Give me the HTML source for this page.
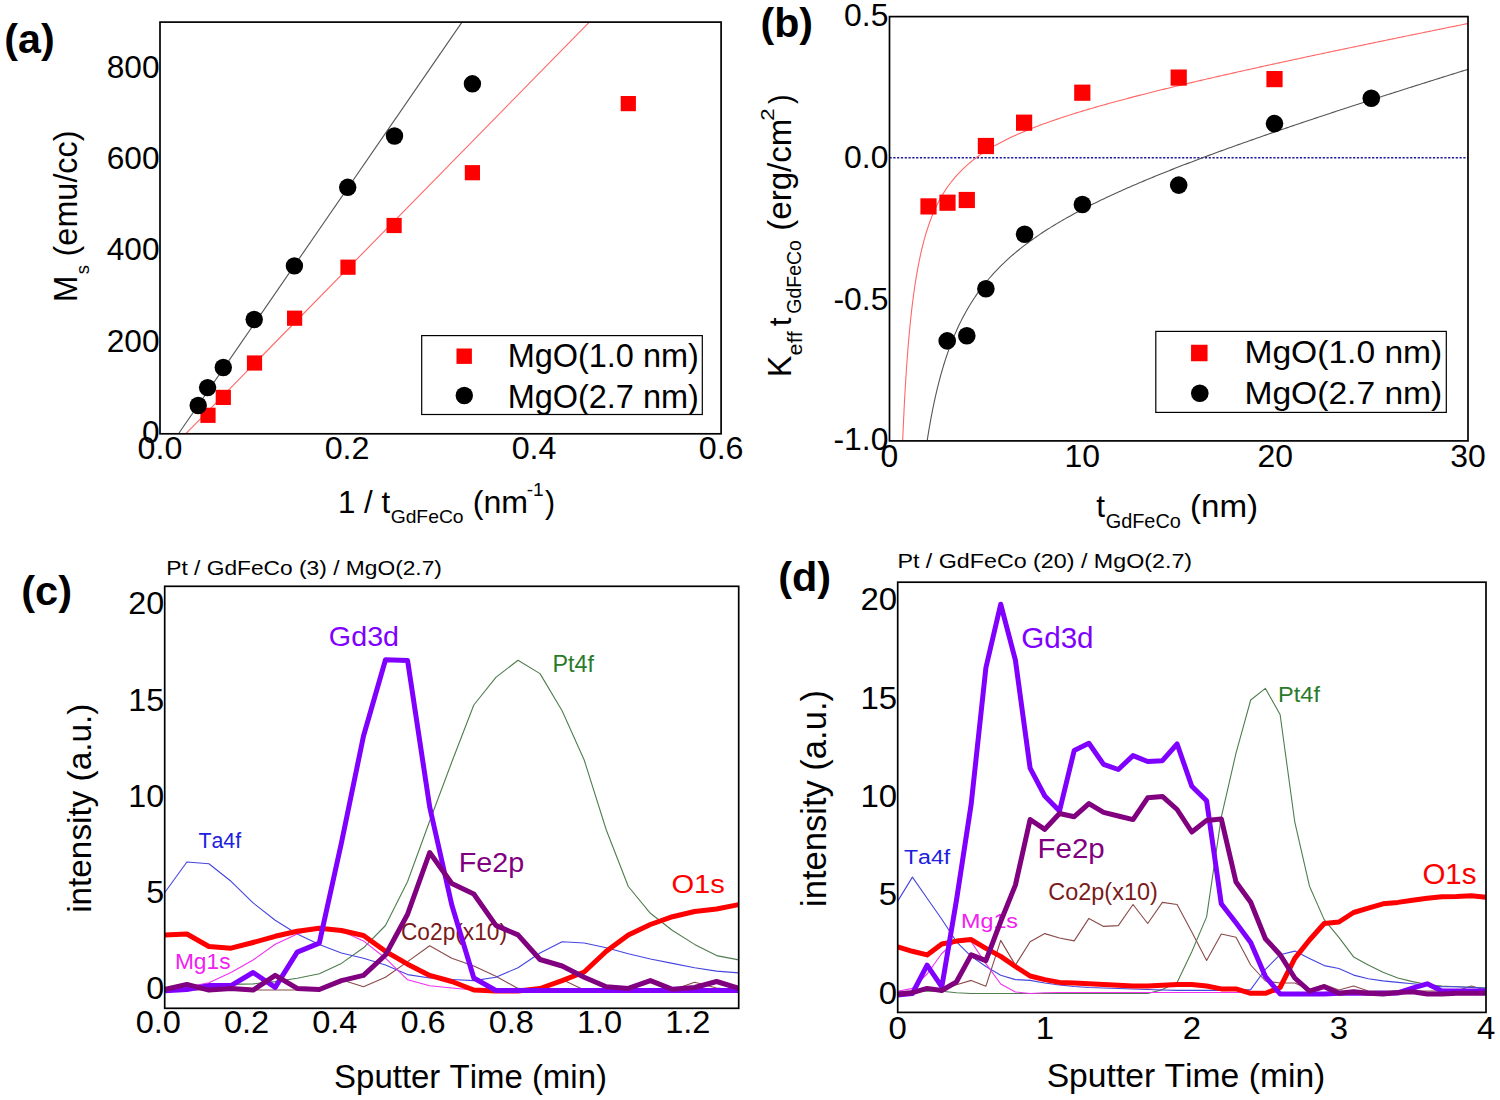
<!DOCTYPE html>
<html><head><meta charset="utf-8"><title>figure</title>
<style>
html,body{margin:0;padding:0;background:#fff;}
svg{display:block;}
text{font-family:"Liberation Sans", sans-serif;font-kerning:none;}
</style></head>
<body>
<svg width="1500" height="1100" viewBox="0 0 1500 1100">
<rect width="1500" height="1100" fill="#fff"/>
<text transform="translate(4.35,52.50) scale(1.0060,1)" font-size="41" font-weight="bold" fill="#000">(a)</text>
<line x1="178.5" y1="433.8" x2="462.0" y2="22.1" stroke="#555" stroke-width="1.1"/>
<line x1="185.7" y1="433.8" x2="589.3" y2="22.1" stroke="#f66" stroke-width="1.1"/>
<rect x="160.0" y="22.1" width="561.10" height="411.70" fill="none" stroke="#000" stroke-width="1.7"/>
<text transform="translate(141.91,443.46) scale(1.0200,1)" font-size="31" fill="#000">0</text>
<text transform="translate(106.74,351.98) scale(1.0200,1)" font-size="31" fill="#000">200</text>
<text transform="translate(106.74,260.49) scale(1.0200,1)" font-size="31" fill="#000">400</text>
<text transform="translate(106.74,169.00) scale(1.0200,1)" font-size="31" fill="#000">600</text>
<text transform="translate(106.74,77.51) scale(1.0200,1)" font-size="31" fill="#000">800</text>
<text transform="translate(137.59,458.96) scale(1.0400,1)" font-size="31" fill="#000">0.0</text>
<text transform="translate(324.63,458.96) scale(1.0400,1)" font-size="31" fill="#000">0.2</text>
<text transform="translate(511.67,458.96) scale(1.0400,1)" font-size="31" fill="#000">0.4</text>
<text transform="translate(698.71,458.96) scale(1.0400,1)" font-size="31" fill="#000">0.6</text>
<rect x="200.40" y="407.70" width="15.2" height="15.2" fill="#f00"/>
<rect x="215.70" y="389.80" width="15.2" height="15.2" fill="#f00"/>
<rect x="246.90" y="355.40" width="15.2" height="15.2" fill="#f00"/>
<rect x="287.00" y="310.60" width="15.2" height="15.2" fill="#f00"/>
<rect x="340.40" y="259.60" width="15.2" height="15.2" fill="#f00"/>
<rect x="386.50" y="217.90" width="15.2" height="15.2" fill="#f00"/>
<rect x="464.80" y="165.10" width="15.2" height="15.2" fill="#f00"/>
<rect x="620.70" y="96.00" width="15.2" height="15.2" fill="#f00"/>
<circle cx="198.20" cy="405.50" r="8.7" fill="#000"/>
<circle cx="207.60" cy="387.60" r="8.7" fill="#000"/>
<circle cx="223.30" cy="367.50" r="8.7" fill="#000"/>
<circle cx="254.20" cy="319.50" r="8.7" fill="#000"/>
<circle cx="294.40" cy="265.90" r="8.7" fill="#000"/>
<circle cx="347.70" cy="187.30" r="8.7" fill="#000"/>
<circle cx="394.50" cy="136.00" r="8.7" fill="#000"/>
<circle cx="472.40" cy="83.80" r="8.7" fill="#000"/>
<rect x="421.7" y="335.6" width="280.6" height="78.9" fill="#fff" stroke="#000" stroke-width="1.2"/>
<rect x="456.50" y="348.50" width="15.4" height="15.4" fill="#f00"/>
<circle cx="464.30" cy="395.50" r="8.7" fill="#000"/>
<text transform="translate(507.64,367.40) scale(1.0054,1)" font-size="32.3" fill="#000">MgO(1.0 nm)</text>
<text transform="translate(507.64,407.50) scale(1.0054,1)" font-size="32.3" fill="#000">MgO(2.7 nm)</text>
<text transform="translate(338.01,512.90) scale(0.9941,1)" font-size="31.5" fill="#000">1 / t</text>
<text transform="translate(390.63,522.80) scale(1.0164,1)" font-size="19" fill="#000">GdFeCo</text>
<text transform="translate(472.81,512.90) scale(1.0195,1)" font-size="31.5" fill="#000">(nm</text>
<text transform="translate(526.75,496.40) scale(1.0610,1)" font-size="18" fill="#000">-1</text>
<text transform="translate(545.02,512.90) scale(0.9579,1)" font-size="31.5" fill="#000">)</text>
<text transform="translate(76.60,302.09) rotate(-90) scale(1.0013,1.0500)" font-size="31.5" fill="#000">M</text>
<text transform="translate(88.70,274.22) rotate(-90) scale(0.9777,1.0000)" font-size="19" fill="#000">s</text>
<text transform="translate(76.60,256.41) rotate(-90) scale(1.0287,1.0300)" font-size="31.5" fill="#000">(emu/cc)</text>
<text transform="translate(760.45,37.40) scale(1.0048,1)" font-size="41" font-weight="bold" fill="#000">(b)</text>
<line x1="889.5" y1="157.8" x2="1468.0" y2="157.8" stroke="#1a1a9a" stroke-width="1.6" stroke-dasharray="2.2,1.6"/>
<clipPath id="clipb"><rect x="889.5" y="16.6" width="578.5" height="424.29999999999995"/></clipPath>
<path d="M901.07,484.58 L901.46,472.87 L901.84,461.89 L902.23,451.57 L902.61,441.85 L903.00,432.69 L903.38,424.03 L903.77,415.83 L904.16,408.06 L904.54,400.68 L904.93,393.67 L905.31,387.00 L905.70,380.65 L906.08,374.58 L906.47,368.79 L906.85,363.25 L907.24,357.95 L907.63,352.87 L908.01,348.00 L908.40,343.33 L908.78,338.84 L909.17,334.52 L909.55,330.37 L909.94,326.37 L910.33,322.51 L910.71,318.80 L911.10,315.21 L911.48,311.75 L911.87,308.40 L912.25,305.16 L912.64,302.03 L913.03,299.00 L913.41,296.07 L913.80,293.23 L914.18,290.47 L914.57,287.79 L914.95,285.20 L915.34,282.68 L915.72,280.23 L916.11,277.85 L916.50,275.54 L916.88,273.29 L917.27,271.10 L917.65,268.97 L918.04,266.89 L918.42,264.87 L918.81,262.89 L919.20,260.97 L919.58,259.10 L919.97,257.27 L920.35,255.48 L920.74,253.74 L921.12,252.04 L921.51,250.37 L921.90,248.75 L922.28,247.16 L922.67,245.61 L923.05,244.09 L923.44,242.60 L923.82,241.14 L924.21,239.72 L924.60,238.33 L924.98,236.96 L925.37,235.62 L925.75,234.31 L926.14,233.03 L926.52,231.77 L926.91,230.53 L927.29,229.32 L927.68,228.13 L928.07,226.97 L928.45,225.82 L928.84,224.70 L929.22,223.59 L929.61,222.51 L929.99,221.45 L930.38,220.40 L930.77,219.37 L931.15,218.36 L931.54,217.37 L931.92,216.40 L932.31,215.44 L932.69,214.49 L933.08,213.56 L933.47,212.65 L933.85,211.75 L934.24,210.87 L934.62,210.00 L935.01,209.14 L935.39,208.30 L935.78,207.47 L936.16,206.65 L936.55,205.84 L936.94,205.05 L937.32,204.26 L937.71,203.49 L938.09,202.73 L938.48,201.98 L938.86,201.24 L939.25,200.52 L939.64,199.80 L940.02,199.09 L940.41,198.39 L940.79,197.70 L941.18,197.02 L941.56,196.35 L941.95,195.69 L942.34,195.03 L942.72,194.39 L943.11,193.75 L943.49,193.12 L943.88,192.50 L944.26,191.89 L944.65,191.28 L945.04,190.68 L945.42,190.09 L945.81,189.50 L946.19,188.93 L946.58,188.36 L946.96,187.79 L947.35,187.24 L949.28,184.54 L951.21,181.99 L953.13,179.58 L955.06,177.28 L956.99,175.10 L958.92,173.02 L960.85,171.03 L962.78,169.12 L964.70,167.29 L966.63,165.54 L968.56,163.86 L970.49,162.23 L972.42,160.67 L974.35,159.16 L976.27,157.70 L978.20,156.29 L980.13,154.92 L982.06,153.60 L983.99,152.31 L985.91,151.06 L987.84,149.85 L989.77,148.66 L991.70,147.51 L993.63,146.39 L995.56,145.30 L997.48,144.23 L999.41,143.18 L1001.34,142.16 L1003.27,141.16 L1005.20,140.19 L1007.13,139.23 L1009.05,138.29 L1010.98,137.37 L1012.91,136.47 L1014.84,135.58 L1016.77,134.71 L1018.70,133.86 L1020.62,133.02 L1022.55,132.19 L1024.48,131.37 L1026.41,130.57 L1028.34,129.78 L1030.27,129.01 L1032.19,128.24 L1034.12,127.48 L1036.05,126.74 L1037.98,126.00 L1039.91,125.28 L1041.84,124.56 L1043.76,123.85 L1045.69,123.15 L1047.62,122.46 L1049.55,121.77 L1051.48,121.10 L1053.41,120.43 L1055.33,119.77 L1057.26,119.11 L1059.19,118.46 L1061.12,117.82 L1063.05,117.19 L1064.98,116.56 L1066.90,115.93 L1068.83,115.31 L1070.76,114.70 L1072.69,114.09 L1074.62,113.49 L1076.55,112.89 L1078.47,112.29 L1080.40,111.71 L1082.33,111.12 L1084.26,110.54 L1086.19,109.96 L1088.11,109.39 L1090.04,108.83 L1091.97,108.26 L1093.90,107.70 L1095.83,107.14 L1097.76,106.59 L1099.68,106.04 L1101.61,105.49 L1103.54,104.95 L1105.47,104.41 L1107.40,103.87 L1109.33,103.34 L1111.25,102.81 L1113.18,102.28 L1115.11,101.76 L1117.04,101.23 L1118.97,100.71 L1120.90,100.20 L1122.82,99.68 L1124.75,99.17 L1126.68,98.66 L1128.61,98.15 L1130.54,97.64 L1132.47,97.14 L1134.39,96.64 L1136.32,96.14 L1138.25,95.64 L1140.18,95.15 L1142.11,94.66 L1144.04,94.16 L1145.96,93.68 L1147.89,93.19 L1149.82,92.70 L1151.75,92.22 L1153.68,91.74 L1155.61,91.26 L1157.53,90.78 L1159.46,90.30 L1161.39,89.82 L1163.32,89.35 L1165.25,88.88 L1167.18,88.41 L1169.10,87.94 L1171.03,87.47 L1172.96,87.00 L1174.89,86.54 L1176.82,86.07 L1178.74,85.61 L1180.67,85.15 L1182.60,84.69 L1184.53,84.23 L1186.46,83.77 L1188.39,83.32 L1190.31,82.86 L1192.24,82.41 L1194.17,81.95 L1196.10,81.50 L1198.03,81.05 L1199.96,80.60 L1201.88,80.15 L1203.81,79.70 L1205.74,79.26 L1207.67,78.81 L1209.60,78.36 L1211.53,77.92 L1213.45,77.48 L1215.38,77.04 L1217.31,76.59 L1219.24,76.15 L1221.17,75.71 L1223.10,75.28 L1225.02,74.84 L1226.95,74.40 L1228.88,73.96 L1230.81,73.53 L1232.74,73.09 L1234.67,72.66 L1236.59,72.23 L1238.52,71.80 L1240.45,71.36 L1242.38,70.93 L1244.31,70.50 L1246.24,70.07 L1248.16,69.64 L1250.09,69.22 L1252.02,68.79 L1253.95,68.36 L1255.88,67.94 L1257.81,67.51 L1259.73,67.09 L1261.66,66.66 L1263.59,66.24 L1265.52,65.81 L1267.45,65.39 L1269.38,64.97 L1271.30,64.55 L1273.23,64.13 L1275.16,63.71 L1277.09,63.29 L1279.02,62.87 L1280.94,62.45 L1282.87,62.03 L1284.80,61.61 L1286.73,61.20 L1288.66,60.78 L1290.59,60.36 L1292.51,59.95 L1294.44,59.53 L1296.37,59.12 L1298.30,58.70 L1300.23,58.29 L1302.16,57.88 L1304.08,57.46 L1306.01,57.05 L1307.94,56.64 L1309.87,56.23 L1311.80,55.82 L1313.73,55.40 L1315.65,54.99 L1317.58,54.58 L1319.51,54.17 L1321.44,53.77 L1323.37,53.36 L1325.30,52.95 L1327.22,52.54 L1329.15,52.13 L1331.08,51.72 L1333.01,51.32 L1334.94,50.91 L1336.87,50.50 L1338.79,50.10 L1340.72,49.69 L1342.65,49.29 L1344.58,48.88 L1346.51,48.48 L1348.44,48.07 L1350.36,47.67 L1352.29,47.27 L1354.22,46.86 L1356.15,46.46 L1358.08,46.06 L1360.01,45.65 L1361.93,45.25 L1363.86,44.85 L1365.79,44.45 L1367.72,44.05 L1369.65,43.65 L1371.58,43.25 L1373.50,42.85 L1375.43,42.45 L1377.36,42.05 L1379.29,41.65 L1381.22,41.25 L1383.14,40.85 L1385.07,40.45 L1387.00,40.05 L1388.93,39.65 L1390.86,39.25 L1392.79,38.86 L1394.71,38.46 L1396.64,38.06 L1398.57,37.66 L1400.50,37.27 L1402.43,36.87 L1404.36,36.47 L1406.28,36.08 L1408.21,35.68 L1410.14,35.29 L1412.07,34.89 L1414.00,34.50 L1415.93,34.10 L1417.85,33.71 L1419.78,33.31 L1421.71,32.92 L1423.64,32.52 L1425.57,32.13 L1427.50,31.73 L1429.42,31.34 L1431.35,30.95 L1433.28,30.55 L1435.21,30.16 L1437.14,29.77 L1439.07,29.38 L1440.99,28.98 L1442.92,28.59 L1444.85,28.20 L1446.78,27.81 L1448.71,27.41 L1450.64,27.02 L1452.56,26.63 L1454.49,26.24 L1456.42,25.85 L1458.35,25.46 L1460.28,25.07 L1462.21,24.68 L1464.13,24.29 L1466.06,23.90 L1467.99,23.51" fill="none" stroke="#f66" stroke-width="1.1" clip-path="url(#clipb)"/>
<path d="M924.21,461.36 L924.60,458.48 L924.98,455.66 L925.37,452.89 L925.75,450.19 L926.14,447.53 L926.52,444.94 L926.91,442.39 L927.29,439.89 L927.68,437.44 L928.07,435.04 L928.45,432.68 L928.84,430.36 L929.22,428.09 L929.61,425.86 L929.99,423.68 L930.38,421.53 L930.77,419.41 L931.15,417.34 L931.54,415.30 L931.92,413.30 L932.31,411.33 L932.69,409.39 L933.08,407.49 L933.47,405.62 L933.85,403.77 L934.24,401.96 L934.62,400.18 L935.01,398.43 L935.39,396.70 L935.78,395.00 L936.16,393.33 L936.55,391.68 L936.94,390.05 L937.32,388.46 L937.71,386.88 L938.09,385.33 L938.48,383.80 L938.86,382.29 L939.25,380.81 L939.64,379.35 L940.02,377.90 L940.41,376.48 L940.79,375.08 L941.18,373.69 L941.56,372.33 L941.95,370.98 L942.34,369.65 L942.72,368.34 L943.11,367.05 L943.49,365.77 L943.88,364.51 L944.26,363.27 L944.65,362.04 L945.04,360.83 L945.42,359.63 L945.81,358.45 L946.19,357.28 L946.58,356.13 L946.96,354.99 L947.35,353.86 L949.28,348.43 L951.21,343.30 L953.13,338.45 L955.06,333.86 L956.99,329.49 L958.92,325.34 L960.85,321.38 L962.78,317.60 L964.70,313.99 L966.63,310.53 L968.56,307.21 L970.49,304.03 L972.42,300.96 L974.35,298.01 L976.27,295.17 L978.20,292.43 L980.13,289.78 L982.06,287.21 L983.99,284.73 L985.91,282.33 L987.84,280.00 L989.77,277.74 L991.70,275.54 L993.63,273.41 L995.56,271.33 L997.48,269.31 L999.41,267.33 L1001.34,265.41 L1003.27,263.53 L1005.20,261.70 L1007.13,259.91 L1009.05,258.16 L1010.98,256.45 L1012.91,254.78 L1014.84,253.13 L1016.77,251.53 L1018.70,249.95 L1020.62,248.40 L1022.55,246.89 L1024.48,245.40 L1026.41,243.93 L1028.34,242.50 L1030.27,241.08 L1032.19,239.69 L1034.12,238.33 L1036.05,236.98 L1037.98,235.65 L1039.91,234.35 L1041.84,233.06 L1043.76,231.80 L1045.69,230.55 L1047.62,229.31 L1049.55,228.10 L1051.48,226.90 L1053.41,225.71 L1055.33,224.54 L1057.26,223.38 L1059.19,222.24 L1061.12,221.11 L1063.05,220.00 L1064.98,218.89 L1066.90,217.80 L1068.83,216.72 L1070.76,215.65 L1072.69,214.59 L1074.62,213.55 L1076.55,212.51 L1078.47,211.48 L1080.40,210.46 L1082.33,209.46 L1084.26,208.46 L1086.19,207.47 L1088.11,206.49 L1090.04,205.51 L1091.97,204.55 L1093.90,203.59 L1095.83,202.64 L1097.76,201.70 L1099.68,200.76 L1101.61,199.83 L1103.54,198.91 L1105.47,198.00 L1107.40,197.09 L1109.33,196.19 L1111.25,195.29 L1113.18,194.40 L1115.11,193.52 L1117.04,192.64 L1118.97,191.77 L1120.90,190.90 L1122.82,190.04 L1124.75,189.18 L1126.68,188.33 L1128.61,187.48 L1130.54,186.64 L1132.47,185.80 L1134.39,184.97 L1136.32,184.14 L1138.25,183.32 L1140.18,182.50 L1142.11,181.68 L1144.04,180.87 L1145.96,180.06 L1147.89,179.26 L1149.82,178.46 L1151.75,177.66 L1153.68,176.87 L1155.61,176.08 L1157.53,175.29 L1159.46,174.51 L1161.39,173.73 L1163.32,172.95 L1165.25,172.18 L1167.18,171.41 L1169.10,170.64 L1171.03,169.88 L1172.96,169.12 L1174.89,168.36 L1176.82,167.60 L1178.74,166.85 L1180.67,166.10 L1182.60,165.35 L1184.53,164.61 L1186.46,163.87 L1188.39,163.13 L1190.31,162.39 L1192.24,161.66 L1194.17,160.92 L1196.10,160.19 L1198.03,159.47 L1199.96,158.74 L1201.88,158.02 L1203.81,157.30 L1205.74,156.58 L1207.67,155.86 L1209.60,155.14 L1211.53,154.43 L1213.45,153.72 L1215.38,153.01 L1217.31,152.30 L1219.24,151.60 L1221.17,150.89 L1223.10,150.19 L1225.02,149.49 L1226.95,148.79 L1228.88,148.10 L1230.81,147.40 L1232.74,146.71 L1234.67,146.02 L1236.59,145.33 L1238.52,144.64 L1240.45,143.95 L1242.38,143.26 L1244.31,142.58 L1246.24,141.90 L1248.16,141.22 L1250.09,140.54 L1252.02,139.86 L1253.95,139.18 L1255.88,138.50 L1257.81,137.83 L1259.73,137.16 L1261.66,136.48 L1263.59,135.81 L1265.52,135.14 L1267.45,134.48 L1269.38,133.81 L1271.30,133.14 L1273.23,132.48 L1275.16,131.82 L1277.09,131.15 L1279.02,130.49 L1280.94,129.83 L1282.87,129.17 L1284.80,128.52 L1286.73,127.86 L1288.66,127.20 L1290.59,126.55 L1292.51,125.89 L1294.44,125.24 L1296.37,124.59 L1298.30,123.94 L1300.23,123.29 L1302.16,122.64 L1304.08,121.99 L1306.01,121.34 L1307.94,120.70 L1309.87,120.05 L1311.80,119.41 L1313.73,118.76 L1315.65,118.12 L1317.58,117.48 L1319.51,116.84 L1321.44,116.20 L1323.37,115.56 L1325.30,114.92 L1327.22,114.28 L1329.15,113.65 L1331.08,113.01 L1333.01,112.37 L1334.94,111.74 L1336.87,111.10 L1338.79,110.47 L1340.72,109.84 L1342.65,109.21 L1344.58,108.58 L1346.51,107.94 L1348.44,107.32 L1350.36,106.69 L1352.29,106.06 L1354.22,105.43 L1356.15,104.80 L1358.08,104.18 L1360.01,103.55 L1361.93,102.92 L1363.86,102.30 L1365.79,101.68 L1367.72,101.05 L1369.65,100.43 L1371.58,99.81 L1373.50,99.19 L1375.43,98.56 L1377.36,97.94 L1379.29,97.32 L1381.22,96.70 L1383.14,96.09 L1385.07,95.47 L1387.00,94.85 L1388.93,94.23 L1390.86,93.61 L1392.79,93.00 L1394.71,92.38 L1396.64,91.77 L1398.57,91.15 L1400.50,90.54 L1402.43,89.92 L1404.36,89.31 L1406.28,88.70 L1408.21,88.09 L1410.14,87.47 L1412.07,86.86 L1414.00,86.25 L1415.93,85.64 L1417.85,85.03 L1419.78,84.42 L1421.71,83.81 L1423.64,83.20 L1425.57,82.60 L1427.50,81.99 L1429.42,81.38 L1431.35,80.77 L1433.28,80.17 L1435.21,79.56 L1437.14,78.95 L1439.07,78.35 L1440.99,77.74 L1442.92,77.14 L1444.85,76.53 L1446.78,75.93 L1448.71,75.33 L1450.64,74.72 L1452.56,74.12 L1454.49,73.52 L1456.42,72.92 L1458.35,72.31 L1460.28,71.71 L1462.21,71.11 L1464.13,70.51 L1466.06,69.91 L1467.99,69.31" fill="none" stroke="#555" stroke-width="1.1" clip-path="url(#clipb)"/>
<rect x="889.5" y="16.6" width="578.50" height="424.30" fill="none" stroke="#000" stroke-width="1.7"/>
<text transform="translate(844.11,25.76) scale(1.0300,1)" font-size="31" fill="#000">0.5</text>
<text transform="translate(844.11,167.56) scale(1.0300,1)" font-size="31" fill="#000">0.0</text>
<text transform="translate(833.48,309.66) scale(1.0300,1)" font-size="31" fill="#000">-0.5</text>
<text transform="translate(833.48,450.36) scale(1.0300,1)" font-size="31" fill="#000">-1.0</text>
<text transform="translate(880.62,466.86) scale(1.0300,1)" font-size="31" fill="#000">0</text>
<text transform="translate(1064.57,466.86) scale(1.0300,1)" font-size="31" fill="#000">10</text>
<text transform="translate(1257.40,466.86) scale(1.0300,1)" font-size="31" fill="#000">20</text>
<text transform="translate(1450.23,466.86) scale(1.0300,1)" font-size="31" fill="#000">30</text>
<rect x="920.40" y="198.30" width="16.2" height="16.2" fill="#f00"/>
<rect x="939.40" y="194.60" width="16.2" height="16.2" fill="#f00"/>
<rect x="958.70" y="191.90" width="16.2" height="16.2" fill="#f00"/>
<rect x="977.80" y="137.90" width="16.2" height="16.2" fill="#f00"/>
<rect x="1016.00" y="114.60" width="16.2" height="16.2" fill="#f00"/>
<rect x="1074.20" y="84.60" width="16.2" height="16.2" fill="#f00"/>
<rect x="1170.60" y="69.50" width="16.2" height="16.2" fill="#f00"/>
<rect x="1266.40" y="71.00" width="16.2" height="16.2" fill="#f00"/>
<circle cx="947.20" cy="340.90" r="8.8" fill="#000"/>
<circle cx="966.80" cy="335.80" r="8.8" fill="#000"/>
<circle cx="985.90" cy="288.70" r="8.8" fill="#000"/>
<circle cx="1024.60" cy="234.20" r="8.8" fill="#000"/>
<circle cx="1082.40" cy="204.50" r="8.8" fill="#000"/>
<circle cx="1178.70" cy="185.10" r="8.8" fill="#000"/>
<circle cx="1274.50" cy="123.60" r="8.8" fill="#000"/>
<circle cx="1371.30" cy="98.20" r="8.8" fill="#000"/>
<rect x="1155.8" y="331.4" width="290.5" height="81.0" fill="#fff" stroke="#000" stroke-width="1.2"/>
<rect x="1191.05" y="344.75" width="16.5" height="16.5" fill="#f00"/>
<circle cx="1199.80" cy="393.20" r="8.8" fill="#000"/>
<text transform="translate(1244.44,363.30) scale(1.0502,1)" font-size="32" fill="#000">MgO(1.0 nm)</text>
<text transform="translate(1244.44,403.80) scale(1.0502,1)" font-size="32" fill="#000">MgO(2.7 nm)</text>
<text transform="translate(1096.22,516.70) scale(1.0000,1)" font-size="31.5" fill="#000">t</text>
<text transform="translate(1105.70,527.60) scale(0.9698,1)" font-size="20.5" fill="#000">GdFeCo</text>
<text transform="translate(1189.94,516.70) scale(1.0521,1)" font-size="31.5" fill="#000">(nm)</text>
<text transform="translate(790.50,377.25) rotate(-90) scale(1.0237,1.0500)" font-size="31.5" fill="#000">K</text>
<text transform="translate(801.80,355.42) rotate(-90) scale(1.1111,1.0000)" font-size="19.5" fill="#000">eff</text>
<text transform="translate(790.50,326.18) rotate(-90) scale(1.0000,1.0000)" font-size="31.5" fill="#000">t</text>
<text transform="translate(801.00,313.78) rotate(-90) scale(1.0000,1.0000)" font-size="19.5" fill="#000">GdFeCo</text>
<text transform="translate(790.50,230.65) rotate(-90) scale(1.0484,1.0300)" font-size="31.5" fill="#000">(erg/cm</text>
<text transform="translate(774.30,120.63) rotate(-90) scale(1.1784,1.0000)" font-size="19" fill="#000">2</text>
<text transform="translate(790.50,104.07) rotate(-90) scale(0.8980,1.0000)" font-size="31.5" fill="#000">)</text>
<text transform="translate(21.23,604.50) scale(1.0147,1)" font-size="41" font-weight="bold" fill="#000">(c)</text>
<text transform="translate(166.23,575.10) scale(1.0793,1)" font-size="21.1" fill="#000">Pt / GdFeCo (3) / MgO(2.7)</text>
<text transform="translate(328.86,646.00) scale(1.0510,1)" font-size="27.3" fill="#8000ff">Gd3d</text>
<text transform="translate(552.48,671.50) scale(1.0164,1)" font-size="23.0" fill="#2a7a2a">Pt4f</text>
<text transform="translate(198.42,847.60) scale(0.9937,1)" font-size="21.5" fill="#2020e0">Ta4f</text>
<text transform="translate(174.94,969.40) scale(1.0427,1)" font-size="21.8" fill="#f020f0">Mg1s</text>
<text transform="translate(458.64,872.00) scale(1.0537,1)" font-size="27.3" fill="#800080">Fe2p</text>
<text transform="translate(671.42,893.40) scale(1.0994,1)" font-size="26.5" fill="#ff0000">O1s</text>
<text transform="translate(400.95,939.90) scale(0.9886,1)" font-size="23.0" fill="#7a1a1a">Co2p(x10)</text>
<clipPath id="clipc"><rect x="164.7" y="586.3" width="574.0" height="422.0"/></clipPath>
<g clip-path="url(#clipc)">
<polyline points="164.8,990.0 186.9,990.0 208.9,990.0 231.0,990.0 253.1,990.0 275.2,990.0 297.2,990.0 319.3,990.0 341.4,979.8 363.5,986.7 385.5,977.2 407.6,961.6 429.7,945.7 451.8,958.2 473.8,966.0 495.9,976.3 518.0,988.4 540.0,990.0 562.1,979.5 584.2,990.0 606.3,990.0 628.3,990.0 650.4,990.0 672.5,990.0 694.6,982.3 716.6,988.0 738.7,990.0" fill="none" stroke="#8a4a4a" stroke-width="1.1" stroke-linejoin="round" stroke-linecap="round"/>
<polyline points="164.8,988.0 186.9,987.0 208.9,986.0 231.0,984.4 253.1,983.9 275.2,981.6 297.2,978.2 319.3,973.7 341.4,963.4 363.5,947.8 385.5,925.5 407.6,881.5 429.7,821.0 451.8,762.0 473.8,705.0 495.9,677.4 518.0,660.2 540.0,673.6 562.1,710.8 584.2,760.0 606.3,830.0 628.3,886.5 650.4,913.3 672.5,930.5 694.6,944.4 716.6,955.6 738.7,959.9" fill="none" stroke="#4f7d4f" stroke-width="1.1" stroke-linejoin="round" stroke-linecap="round"/>
<polyline points="164.8,892.5 186.9,862.0 208.9,863.7 231.0,881.3 253.1,902.9 275.2,920.2 297.2,934.0 319.3,944.4 341.4,953.0 363.5,958.2 385.5,965.1 407.6,974.6 429.7,978.0 451.8,979.5 473.8,980.6 495.9,977.2 518.0,967.7 540.0,953.0 562.1,941.8 584.2,943.0 606.3,947.8 628.3,953.8 650.4,959.0 672.5,963.4 694.6,967.7 716.6,971.1 738.7,972.9" fill="none" stroke="#4545e0" stroke-width="1.1" stroke-linejoin="round" stroke-linecap="round"/>
<polyline points="164.8,989.5 186.9,987.0 208.9,982.7 231.0,972.5 253.1,960.0 275.2,944.2 297.2,934.0 319.3,928.3 341.4,931.0 363.5,940.9 385.5,958.2 407.6,979.8 429.7,985.8 451.8,988.0 473.8,990.0 495.9,990.0 518.0,990.0 540.0,990.0 562.1,990.0 584.2,990.0 606.3,990.0 628.3,990.0 650.4,990.0 672.5,990.0 694.6,990.0 716.6,990.0 738.7,990.0" fill="none" stroke="#f030f0" stroke-width="1.1" stroke-linejoin="round" stroke-linecap="round"/>
<polyline points="164.8,935.1 186.9,934.0 208.9,946.5 231.0,948.2 253.1,942.5 275.2,936.3 297.2,931.2 319.3,928.3 341.4,930.5 363.5,935.5 385.5,951.3 407.6,964.2 429.7,975.4 451.8,981.5 473.8,990.0 495.9,991.0 518.0,991.0 540.0,988.5 562.1,980.6 584.2,972.0 606.3,951.3 628.3,934.9 650.4,924.5 672.5,916.7 694.6,911.5 716.6,909.0 738.7,904.6" fill="none" stroke="#ff0000" stroke-width="5" stroke-linejoin="round" stroke-linecap="round"/>
<polyline points="164.8,990.7 186.9,989.5 208.9,985.6 231.0,985.6 253.1,972.5 275.2,987.3 297.2,952.1 319.3,943.1 341.4,843.0 363.5,736.0 385.5,659.7 407.6,660.6 429.7,807.0 451.8,905.0 473.8,978.0 495.9,990.5 518.0,990.5 540.0,990.5 562.1,990.5 584.2,990.5 606.3,990.5 628.3,990.5 650.4,990.5 672.5,990.5 694.6,990.5 716.6,990.5 738.7,990.5" fill="none" stroke="#8000ff" stroke-width="5" stroke-linejoin="round" stroke-linecap="round"/>
<polyline points="164.8,989.5 186.9,984.4 208.9,990.1 231.0,988.4 253.1,990.1 275.2,975.4 297.2,988.4 319.3,989.5 341.4,980.6 363.5,975.4 385.5,955.0 407.6,914.2 429.7,852.5 451.8,883.5 473.8,894.0 495.9,925.4 518.0,934.9 540.0,959.5 562.1,966.0 584.2,977.2 606.3,986.7 628.3,988.4 650.4,980.6 672.5,989.3 694.6,987.5 716.6,981.5 738.7,988.4" fill="none" stroke="#800080" stroke-width="5" stroke-linejoin="round" stroke-linecap="round"/>
</g>
<rect x="164.7" y="586.3" width="574.00" height="422.00" fill="none" stroke="#000" stroke-width="1.7"/>
<text transform="translate(146.27,999.26) scale(1.0400,1)" font-size="31" fill="#000">0</text>
<text transform="translate(146.27,903.01) scale(1.0400,1)" font-size="31" fill="#000">5</text>
<text transform="translate(128.34,806.76) scale(1.0400,1)" font-size="31" fill="#000">10</text>
<text transform="translate(128.34,710.51) scale(1.0400,1)" font-size="31" fill="#000">15</text>
<text transform="translate(128.34,614.26) scale(1.0400,1)" font-size="31" fill="#000">20</text>
<text transform="translate(135.68,1033.06) scale(1.0500,1)" font-size="31" fill="#000">0.0</text>
<text transform="translate(223.93,1033.06) scale(1.0500,1)" font-size="31" fill="#000">0.2</text>
<text transform="translate(312.18,1033.06) scale(1.0500,1)" font-size="31" fill="#000">0.4</text>
<text transform="translate(400.43,1033.06) scale(1.0500,1)" font-size="31" fill="#000">0.6</text>
<text transform="translate(488.68,1033.06) scale(1.0500,1)" font-size="31" fill="#000">0.8</text>
<text transform="translate(576.93,1033.06) scale(1.0500,1)" font-size="31" fill="#000">1.0</text>
<text transform="translate(665.18,1033.06) scale(1.0500,1)" font-size="31" fill="#000">1.2</text>
<text transform="translate(334.10,1088.00) scale(0.9870,1)" font-size="33.4" fill="#000">Sputter Time (min)</text>
<text transform="translate(90.80,912.83) rotate(-90) scale(1.0003,1.0000)" font-size="33.3" fill="#000">intensity (a.u.)</text>
<text transform="translate(778.34,591.10) scale(1.0090,1)" font-size="41" font-weight="bold" fill="#000">(d)</text>
<text transform="translate(897.39,568.10) scale(1.1078,1)" font-size="21.0" fill="#000">Pt / GdFeCo (20) / MgO(2.7)</text>
<text transform="translate(1021.21,648.30) scale(1.0032,1)" font-size="29.5" fill="#8000ff">Gd3d</text>
<text transform="translate(1278.07,701.50) scale(1.0468,1)" font-size="22.5" fill="#2a7a2a">Pt4f</text>
<text transform="translate(903.98,864.00) scale(1.1015,1)" font-size="21.0" fill="#2020e0">Ta4f</text>
<text transform="translate(961.09,928.00) scale(1.1091,1)" font-size="21.0" fill="#f020f0">Mg1s</text>
<text transform="translate(1037.48,858.20) scale(1.0354,1)" font-size="28.5" fill="#800080">Fe2p</text>
<text transform="translate(1422.40,883.50) scale(1.0184,1)" font-size="29.0" fill="#ff0000">O1s</text>
<text transform="translate(1048.31,900.20) scale(1.0201,1)" font-size="23.0" fill="#7a1a1a">Co2p(x10)</text>
<clipPath id="clipd"><rect x="897.7" y="582.2" width="588.3" height="430.19999999999993"/></clipPath>
<g clip-path="url(#clipd)">
<polyline points="897.7,992.0 912.4,991.0 927.1,990.0 941.8,990.0 956.5,984.7 971.2,980.4 985.9,986.2 1000.7,940.4 1015.4,965.1 1030.1,941.8 1044.8,933.6 1059.5,938.0 1074.2,940.9 1088.9,918.4 1103.6,926.4 1118.3,925.6 1133.0,904.5 1147.7,923.5 1162.4,902.4 1177.1,904.5 1191.8,932.0 1206.6,960.5 1221.3,934.0 1236.0,937.3 1250.7,965.0 1265.4,981.0 1280.1,983.0 1294.8,983.0 1309.5,989.6 1324.2,984.5 1338.9,990.0 1353.6,986.0 1368.3,991.0 1383.0,991.0 1397.8,991.0 1412.5,991.0 1427.2,991.0 1441.9,991.0 1456.6,991.0 1471.3,986.0 1486.0,990.0" fill="none" stroke="#8a4a4a" stroke-width="1.1" stroke-linejoin="round" stroke-linecap="round"/>
<polyline points="897.7,991.3 912.4,991.3 927.1,991.3 941.8,991.3 956.5,992.7 971.2,993.5 985.9,993.5 1000.7,993.5 1015.4,993.5 1030.1,993.5 1044.8,993.5 1059.5,993.5 1074.2,993.5 1088.9,993.5 1103.6,993.5 1118.3,993.5 1133.0,993.5 1147.7,993.5 1162.4,989.6 1177.1,982.4 1191.8,951.8 1206.6,916.9 1221.3,817.1 1236.0,753.1 1250.7,700.0 1265.4,688.4 1280.1,714.5 1294.8,822.2 1309.5,886.2 1324.2,919.6 1338.9,937.3 1353.6,956.9 1368.3,964.9 1383.0,972.2 1397.8,978.0 1412.5,981.6 1427.2,984.5 1441.9,986.0 1456.6,986.7 1471.3,987.3 1486.0,988.0" fill="none" stroke="#4f7d4f" stroke-width="1.1" stroke-linejoin="round" stroke-linecap="round"/>
<polyline points="897.7,901.1 912.4,877.1 927.1,898.2 941.8,919.3 956.5,941.8 971.2,956.4 985.9,966.5 1000.7,975.3 1015.4,979.6 1030.1,980.4 1044.8,983.0 1059.5,985.0 1074.2,986.5 1088.9,987.5 1103.6,988.0 1118.3,988.5 1133.0,989.0 1147.7,989.5 1162.4,990.0 1177.1,990.4 1191.8,990.4 1206.6,990.4 1221.3,990.4 1236.0,990.4 1250.7,989.6 1265.4,969.3 1280.1,954.7 1294.8,951.1 1309.5,958.4 1324.2,965.6 1338.9,968.5 1353.6,975.1 1368.3,978.7 1383.0,980.9 1397.8,982.4 1412.5,983.8 1427.2,985.3 1441.9,986.7 1456.6,986.7 1471.3,987.5 1486.0,988.2" fill="none" stroke="#4545e0" stroke-width="1.1" stroke-linejoin="round" stroke-linecap="round"/>
<polyline points="897.7,991.3 912.4,988.4 927.1,974.0 941.8,953.5 956.5,940.4 971.2,941.8 985.9,963.6 1000.7,984.0 1015.4,992.0 1030.1,993.5 1044.8,992.7 1059.5,992.5 1074.2,992.5 1088.9,992.5 1103.6,992.5 1118.3,992.5 1133.0,992.5 1147.7,992.5 1162.4,992.5 1177.1,992.5 1191.8,992.5 1206.6,992.5 1221.3,992.5 1236.0,992.5 1250.7,992.5 1265.4,992.5 1280.1,992.5 1294.8,992.5 1309.5,992.5 1324.2,992.5 1338.9,992.5 1353.6,992.5 1368.3,992.5 1383.0,992.5 1397.8,992.5 1412.5,992.5 1427.2,992.5 1441.9,992.5 1456.6,992.5 1471.3,992.5 1486.0,992.5" fill="none" stroke="#f030f0" stroke-width="1.1" stroke-linejoin="round" stroke-linecap="round"/>
<polyline points="897.7,946.9 912.4,951.3 927.1,954.9 941.8,944.0 956.5,941.1 971.2,939.6 985.9,948.4 1000.7,956.4 1015.4,966.5 1030.1,976.0 1044.8,979.6 1059.5,982.4 1074.2,983.1 1088.9,983.8 1103.6,984.5 1118.3,985.3 1133.0,986.0 1147.7,986.0 1162.4,985.3 1177.1,984.5 1191.8,984.5 1206.6,986.0 1221.3,988.9 1236.0,988.9 1250.7,993.3 1265.4,993.3 1280.1,987.5 1294.8,958.4 1309.5,940.0 1324.2,923.5 1338.9,922.0 1353.6,912.5 1368.3,908.2 1383.0,903.8 1397.8,902.4 1412.5,900.2 1427.2,898.3 1441.9,896.8 1456.6,896.5 1471.3,895.8 1486.0,897.3" fill="none" stroke="#ff0000" stroke-width="5" stroke-linejoin="round" stroke-linecap="round"/>
<polyline points="897.7,994.9 912.4,993.5 927.1,965.1 941.8,986.9 956.5,900.0 971.2,804.0 985.9,667.8 1000.7,604.2 1015.4,660.1 1030.1,768.2 1044.8,796.0 1059.5,811.0 1074.2,750.5 1088.9,743.3 1103.6,764.4 1118.3,769.5 1133.0,755.6 1147.7,761.5 1162.4,760.7 1177.1,744.0 1191.8,786.2 1206.6,800.7 1221.3,903.8 1236.0,922.7 1250.7,942.4 1265.4,976.5 1280.1,994.0 1294.8,994.0 1309.5,994.0 1324.2,994.0 1338.9,993.3 1353.6,993.3 1368.3,993.3 1383.0,993.3 1397.8,993.0 1412.5,988.2 1427.2,983.8 1441.9,991.0 1456.6,991.0 1471.3,991.0 1486.0,991.0" fill="none" stroke="#8000ff" stroke-width="5" stroke-linejoin="round" stroke-linecap="round"/>
<polyline points="897.7,994.2 912.4,992.7 927.1,988.4 941.8,990.5 956.5,981.8 971.2,954.9 985.9,960.7 1000.7,921.5 1015.4,885.1 1030.1,819.5 1044.8,829.3 1059.5,813.5 1074.2,816.7 1088.9,803.6 1103.6,812.4 1118.3,816.0 1133.0,819.6 1147.7,797.8 1162.4,796.4 1177.1,809.5 1191.8,832.0 1206.6,820.4 1221.3,818.9 1236.0,882.0 1250.7,902.2 1265.4,938.7 1280.1,954.7 1294.8,978.0 1309.5,991.1 1324.2,986.7 1338.9,993.3 1353.6,991.8 1368.3,993.3 1383.0,994.0 1397.8,992.5 1412.5,991.8 1427.2,994.0 1441.9,994.0 1456.6,993.3 1471.3,993.3 1486.0,993.3" fill="none" stroke="#800080" stroke-width="5" stroke-linejoin="round" stroke-linecap="round"/>
</g>
<rect x="897.7" y="582.2" width="588.30" height="430.20" fill="none" stroke="#000" stroke-width="1.7"/>
<text transform="translate(878.87,1003.61) scale(1.0300,1)" font-size="32" fill="#000">0</text>
<text transform="translate(878.87,905.26) scale(1.0300,1)" font-size="32" fill="#000">5</text>
<text transform="translate(860.54,806.91) scale(1.0300,1)" font-size="32" fill="#000">10</text>
<text transform="translate(860.54,708.56) scale(1.0300,1)" font-size="32" fill="#000">15</text>
<text transform="translate(860.54,610.21) scale(1.0300,1)" font-size="32" fill="#000">20</text>
<text transform="translate(888.53,1039.31) scale(1.0300,1)" font-size="32" fill="#000">0</text>
<text transform="translate(1035.63,1039.31) scale(1.0300,1)" font-size="32" fill="#000">1</text>
<text transform="translate(1182.73,1039.31) scale(1.0300,1)" font-size="32" fill="#000">2</text>
<text transform="translate(1329.83,1039.31) scale(1.0300,1)" font-size="32" fill="#000">3</text>
<text transform="translate(1476.93,1039.31) scale(1.0300,1)" font-size="32" fill="#000">4</text>
<text transform="translate(1046.67,1087.10) scale(0.9963,1)" font-size="33.8" fill="#000">Sputter Time (min)</text>
<text transform="translate(826.00,907.01) rotate(-90) scale(1.0023,1.0000)" font-size="34.5" fill="#000">intensity (a.u.)</text>
</svg>
</body></html>
